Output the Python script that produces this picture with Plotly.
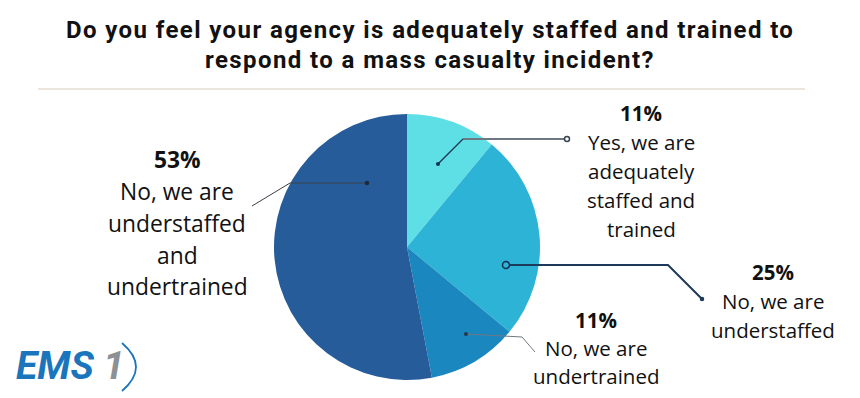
import plotly.graph_objects as go

W, H = 860, 398
OFF = 8  # page body margin
FW, FH = W - OFF, H - OFF

title_lines = ["Do you feel your agency is adequately staffed and trained to",
               "respond to a mass casualty incident?"]
labels = ["Yes, we are adequately staffed and trained",
          "No, we are understaffed",
          "No, we are undertrained",
          "No, we are understaffed and undertrained"]
values = [11, 25, 11, 53]
pct_labels = ["11%", "25%", "11%", "53%"]
label_lines = [["Yes, we are", "adequately", "staffed and", "trained"],
               ["No, we are", "understaffed"],
               ["No, we are", "undertrained"],
               ["No, we are", "understaffed", "and", "undertrained"]]
colors = ["#5DDFE5", "#2DB3D5", "#1A88BF", "#265C99"]


def px(x):
    return (x - OFF) / FW


def py(y):
    return 1 - (y - OFF) / FH


fig = go.Figure()
cx, cy, r = 407, 247, 133
fig.add_trace(go.Pie(
    values=values, labels=labels, sort=False, direction="clockwise", rotation=0,
    marker=dict(colors=colors, line=dict(width=0)),
    textinfo="none", hoverinfo="label+percent", showlegend=False,
    domain=dict(x=[px(cx - r), px(cx + r)], y=[py(cy + r), py(cy - r)]),
))

annotations = []
for i, t in enumerate(title_lines):
    annotations.append(dict(x=px(430), y=py(29.5 + 31 * i), xref="paper", yref="paper",
                            text='<span style="letter-spacing:1.4px"><b>' + t + "</b></span>",
                            showarrow=False, xanchor="center", yanchor="middle",
                            font=dict(family="Roboto", size=24, color="#111111")))

blocks = [(641, 113, 29, 20.5), (773, 272, 29, 20.5), (596, 320, 28, 20.5), (177, 160, 31.7, 22.8)]
for k, (bx, by, sp, fs) in enumerate(blocks):
    annotations.append(dict(x=px(bx), y=py(by), xref="paper", yref="paper",
                            text="<b>" + pct_labels[k] + "</b>", showarrow=False,
                            xanchor="center", yanchor="middle",
                            font=dict(family="Open Sans", size=fs, color="#111111")))
    for j, ln in enumerate(label_lines[k]):
        annotations.append(dict(x=px(bx), y=py(by + sp * (j + 1)), xref="paper", yref="paper",
                                text=ln, showarrow=False, xanchor="center", yanchor="middle",
                                font=dict(family="Open Sans", size=fs, color="#111111")))

annotations.append(dict(x=px(14), y=py(366), xref="paper", yref="paper",
                        text="<b><i>EMS</i></b>", showarrow=False, xanchor="left", yanchor="middle",
                        font=dict(family="Roboto", size=39, color="#1B75BC")))
annotations.append(dict(x=px(101), y=py(366), xref="paper", yref="paper",
                        text="<b><i>1</i></b>", showarrow=False, xanchor="left", yanchor="middle",
                        font=dict(family="Roboto", size=39, color="#8C9196")))

shapes = []


def seg(pts, color, width):
    d = "M " + " L ".join(f"{px(x):.5f},{py(y):.5f}" for x, y in pts)
    shapes.append(dict(type="path", path=d, xref="paper", yref="paper",
                       line=dict(color=color, width=width)))


def dot(x, y, rr, color, fill):
    shapes.append(dict(type="circle", xref="paper", yref="paper",
                       x0=px(x - rr), x1=px(x + rr), y0=py(y + rr), y1=py(y - rr),
                       line=dict(color=color, width=1.5), fillcolor=fill))


seg([(38, 89), (805, 89)], "#E4DCD0", 1.5)
seg([(438, 164), (463, 139)], "#1E3550", 1.3)
seg([(463, 139), (564, 139)], "#6E7882", 1.8)
dot(438, 164, 1.3, "#1E3550", "#1E3550")
dot(567, 139, 2.5, "#3A4552", "white")
seg([(510, 265), (668, 265), (702, 299)], "#1E3A5A", 2)
dot(506, 265, 3.5, "#13304F", "#2DB3D5")
dot(702, 299, 1.5, "#1E3A5A", "#1E3A5A")
seg([(466, 334), (522, 337), (535, 352)], "#707880", 1)
dot(466, 334, 1.3, "#2A3A50", "#2A3A50")
seg([(367, 183), (290, 183), (252, 206)], "#3A4048", 1)
dot(367, 183, 1.5, "#1E2A3A", "#1E2A3A")
shapes.append(dict(type="path", xref="paper", yref="paper",
                   path=f"M {px(122):.5f},{py(343):.5f} Q {px(150):.5f},{py(367):.5f} {px(122):.5f},{py(391):.5f}",
                   line=dict(color="#1B75BC", width=1.8)))

fig.update_layout(width=FW, height=FH, margin=dict(l=0, r=0, t=0, b=0),
                  paper_bgcolor="white", plot_bgcolor="white",
                  annotations=annotations, shapes=shapes)
fig.write_html("out.html")
